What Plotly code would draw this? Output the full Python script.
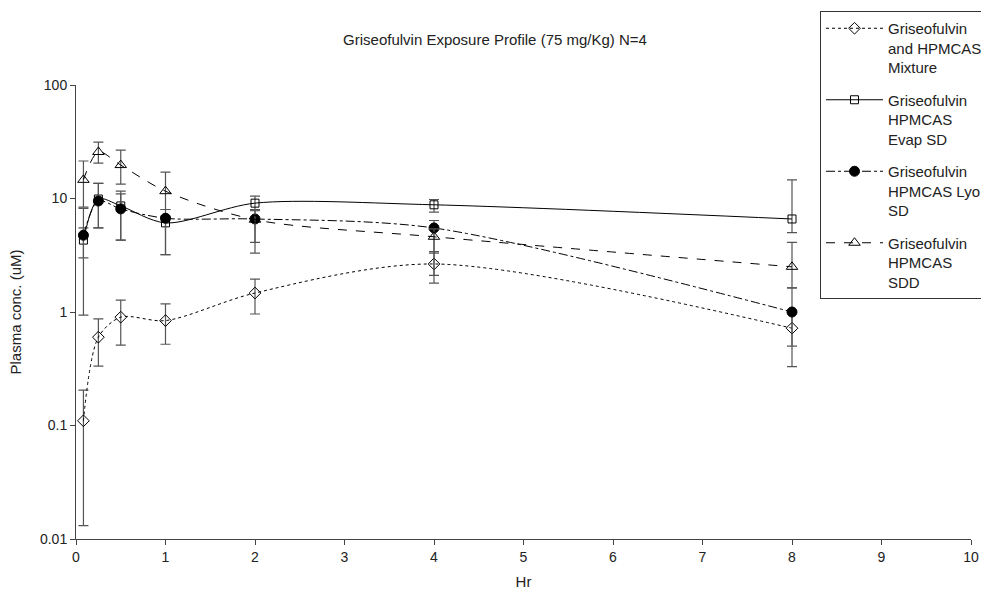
import plotly.graph_objects as go

# ---- data ----
hours = [0.083, 0.25, 0.5, 1, 2, 4, 8]

names = [
    "Griseofulvin<br>and HPMCAS<br>Mixture",
    "Griseofulvin<br>HPMCAS<br>Evap SD",
    "Griseofulvin<br>HPMCAS Lyo<br>SD",
    "Griseofulvin<br>HPMCAS<br>SDD",
]

mixture = [0.11, 0.60, 0.90, 0.84, 1.47, 2.65, 0.72]
mixture_hi = [0.205, 0.87, 1.27, 1.18, 1.95, 3.4, 1.0]
mixture_lo = [0.0131, 0.334, 0.51, 0.52, 0.96, 1.8, 0.33]

evap = [4.3, 9.9, 8.6, 6.1, 9.1, 8.8, 6.6]
evap_hi = [8.2, 13.6, 11.6, 7.0, 10.5, 9.8, 14.6]
evap_lo = [0.94, 5.5, 4.3, 3.2, 7.9, 7.6, 5.0]

lyo = [4.75, 9.5, 8.1, 6.7, 6.6, 5.5, 1.0]
lyo_hi = [5.5, 13.6, 11.0, 8.0, 7.8, 6.4, 1.63]
lyo_lo = [3.0, 5.5, 4.3, 3.2, 4.1, 2.1, 0.5]

sdd = [14.6, 25.7, 19.7, 11.6, 6.5, 4.6, 2.5]
sdd_hi = [21.4, 31.4, 26.7, 17.1, 8.0, 5.4, 4.1]
sdd_lo = [8.4, 20.5, 13.4, 8.0, 3.3, 3.3, 1.63]

ytick_vals = [0.01, 0.1, 1, 10, 100]
ytick_text = ["0.01", "0.1", "1", "10", "100"]

series = [
    (names[0], mixture, mixture_hi, mixture_lo, "dot", "diamond-open", 9),
    (names[1], evap, evap_hi, evap_lo, "solid", "square-open", 8),
    (names[2], lyo, lyo_hi, lyo_lo, "dashdot", "circle", 10),
    (names[3], sdd, sdd_hi, sdd_lo, "dash", "triangle-up-open", 10),
]

fig = go.Figure()
for i, (nm, y, hi, lo, dash, sym, sz) in enumerate(series):
    fig.add_trace(go.Scatter(
        x=hours, y=y, name=nm, mode="lines+markers",
        legendgroup=f"g{i}",
        line=dict(color="black", width=1, dash=dash, shape="spline", smoothing=0.85),
        marker=dict(symbol=sym, size=sz, color="black",
                    line=dict(color="black", width=1)),
        error_y=dict(type="data", symmetric=False,
                     array=[h - v for h, v in zip(hi, y)],
                     arrayminus=[v - l for v, l in zip(y, lo)],
                     color="#555555", thickness=1.2, width=5),
        cliponaxis=False,
    ))

font = "Liberation Sans, Arial, sans-serif"
fig.update_layout(
    width=981, height=592,
    margin=dict(l=76, r=10, t=85, b=53, autoexpand=False),
    paper_bgcolor="white", plot_bgcolor="white",
    font=dict(family=font, size=14, color="#222"),
    title=dict(text="Griseofulvin Exposure Profile (75 mg/Kg) N=4",
               x=495 / 981, xref="container", xanchor="center",
               y=1 - 40 / 592, yref="container", yanchor="middle",
               font=dict(size=15, family=font, color="#222")),
    showlegend=True,
    legend=dict(x=(820 - 76) / 895, xanchor="left", y=(539 - 11) / 454, yanchor="top",
                bgcolor="white", bordercolor="#333", borderwidth=1,
                font=dict(size=15, family=font, color="#222"),
                tracegroupgap=10, itemwidth=57, valign="top"),
    xaxis=dict(range=[0, 10], dtick=1, tick0=0, showgrid=False, zeroline=False,
               showline=True, linecolor="#444", linewidth=1, automargin=False,
               ticks="outside", ticklen=5, tickcolor="#444",
               tickfont=dict(size=14),
               title=dict(text="Hr", standoff=12, font=dict(size=15))),
    yaxis=dict(type="log", range=[-2, 2], tickvals=ytick_vals, ticktext=ytick_text,
               showgrid=False, zeroline=False, automargin=False,
               showline=True, linecolor="#444", linewidth=1,
               ticks="outside", ticklen=5, tickcolor="#444",
               tickfont=dict(size=14),
               title=dict(text="Plasma conc. (uM)", standoff=14, font=dict(size=15))),
)

fig.write_html("out.html")
